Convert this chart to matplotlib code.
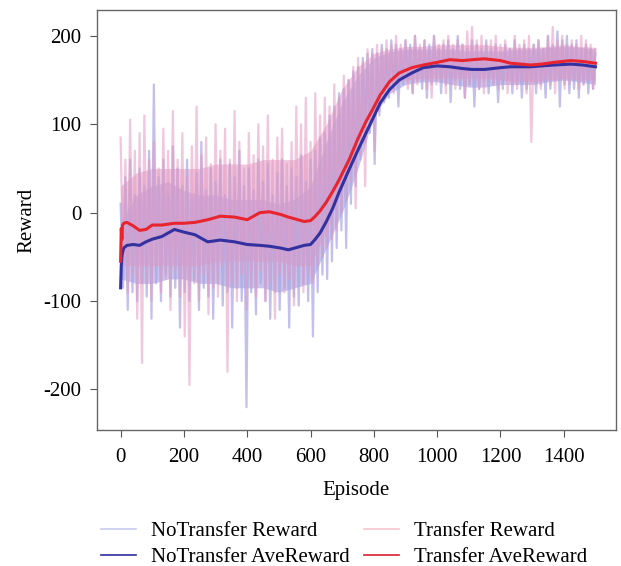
import matplotlib
matplotlib.use("Agg")
import matplotlib.pyplot as plt
from matplotlib.lines import Line2D

plt.rcParams['font.family'] = ['Liberation Serif', 'DejaVu Serif']

# Raw reward spikes, one high/low pair per 15-episode bin (episodes 0..1500)
bin_ep = list(range(0, 1501, 15))

notransfer_hi = [10, 40, 60, 20, 50, 30, 70, 145, 40, 60, 20, 75, 50, 30, 60, 15, 45, 80, 25, 50,
                 35, 60, 20, 55, 40, 70, 30, 50, 25, 60, 35, 55, 20, 45, 60, 30, 50, 40, 65, 35,
                 60, 70, 85, 90, 110, 120, 135, 140, 150, 160, 165, 175, 180, 185, 180, 190, 185, 195, 190, 185,
                 195, 190, 200, 185, 195, 190, 200, 185, 190, 195, 185, 200, 190, 185, 195, 190, 185, 195, 185, 190,
                 180, 190, 185, 195, 185, 190, 185, 190, 195, 185, 200, 190, 205, 195, 200, 190, 195, 185, 190, 185,
                 180]
notransfer_lo = [-85, -110, -90, -100, -80, -95, -120, -80, -100, -70, -95, -85, -130, -90, -100, -75, -110, -85, -95, -120,
                 -80, -105, -90, -130, -85, -100, -220, -90, -115, -80, -100, -120, -90, -110, -85, -130, -95, -105, -80, -100,
                 -140, -90, -70, -75, -55, -40, -20, -40, 10, 30, 60, 80, 90, 55, 110, 125, 130, 140, 120, 145,
                 150, 135, 150, 140, 130, 145, 150, 135, 145, 125, 150, 140, 130, 145, 120, 140, 150, 135, 145, 125,
                 140, 150, 135, 145, 130, 140, 150, 135, 145, 130, 140, 150, 120, 145, 135, 140, 130, 145, 135, 140,
                 150]
transfer_hi = [85, 60, 105, 70, 90, 110, 60, 80, 50, 95, 70, 115, 60, 90, 40, 75, 120, 65, 85, 55,
               100, 70, 95, 60, 115, 80, 50, 90, 65, 100, 75, 110, 60, 85, 95, 55, 80, 120, 100, 130,
               80, 135, 110, 130, 120, 145, 130, 155, 150, 165, 175, 170, 185, 180, 190, 185, 195, 190, 200, 190,
               195, 185, 200, 190, 195, 185, 200, 190, 195, 200, 190, 195, 190, 205, 210, 195, 200, 190, 195, 200,
               190, 195, 185, 200, 190, 195, 200, 190, 195, 185, 200, 210, 195, 200, 190, 195, 190, 200, 195, 190,
               185]
transfer_lo = [-60, -90, -70, -120, -170, -80, -100, -60, -90, -75, -110, -65, -95, -140, -195, -80, -100, -70, -115, -85,
               -95, -60, -180, -80, -100, -70, -110, -85, -95, -65, -100, -80, -120, -70, -90, -75, -105, -60, -90, -70,
               -80, -60, -50, -40, -30, -20, 0, 15, 35, 5, 65, 30, 100, 70, 115, 130, 140, 135, 145, 150,
               140, 135, 145, 150, 140, 130, 145, 150, 135, 145, 140, 150, 130, 145, 150, 140, 135, 150, 145, 140,
               150, 135, 145, 140, 150, 135, 80, 145, 140, 150, 145, 135, 150, 140, 145, 150, 140, 145, 150, 140,
               150]

# Dense core of the raw reward traces, every 50 episodes
core_ep = list(range(0, 1501, 50))
notransfer_core_hi = [-10, 20, 30, 35, 25, 20, 20, 15, 15, 15, 10, 15, 30, 80, 125, 155,
                      175, 182, 185, 185, 185, 185, 183, 183, 183, 185, 185, 187, 188, 187, 185]
notransfer_core_lo = [-75, -80, -80, -75, -75, -80, -80, -85, -85, -85, -90, -85, -80, -40, 0, 50,
                      110, 135, 145, 148, 148, 145, 142, 142, 145, 145, 145, 148, 150, 148, 145]
transfer_core_hi = [30, 45, 50, 50, 50, 50, 55, 55, 55, 60, 60, 60, 70, 100, 140, 165,
                    180, 185, 188, 188, 190, 190, 190, 190, 188, 187, 187, 188, 190, 188, 187]
transfer_core_lo = [-60, -60, -60, -60, -60, -60, -55, -55, -55, -55, -55, -60, -60, -20, 30, 80,
                    125, 145, 150, 152, 152, 152, 152, 152, 150, 148, 148, 150, 152, 150, 150]

# Moving-average curves
ave_ep = [0, 2, 4, 6, 10, 20, 40, 60, 80, 100, 130, 170, 200, 235, 275, 315, 360, 400, 440, 470,
          505, 530, 560, 580, 600, 615, 630, 650, 670, 690, 722, 750, 775, 795, 820, 849, 880, 920, 956, 1000,
          1040, 1080, 1110, 1150, 1200, 1232, 1265, 1295, 1330, 1370, 1422, 1460, 1500]
transfer_ave = [-55, -18, -30, -14, -12, -11, -15, -20, -19, -14, -14, -12, -12, -11, -8, -4, -5, -8, 0, 1,
                -2, -5, -8, -10, -9, -4, 2, 12, 24, 37, 60, 84, 103, 116, 133, 148, 158, 164, 167, 170,
                173, 172, 173, 174, 172, 169, 168, 167, 168, 170, 172, 171, 169]
notransfer_ave = [-85, -60, -50, -45, -40, -37, -36, -37, -33, -30, -27, -19, -22, -25, -33, -31, -33, -36, -37, -38,
                  -40, -42, -39, -37, -36, -30, -23, -10, 5, 23, 49, 71, 90, 105, 124, 139, 150, 158, 164, 166,
                  165, 163, 162, 162, 164, 165, 165, 165, 166, 167, 168, 167, 165]

xticks = [0, 200, 400, 600, 800, 1000, 1200, 1400]
yticks = [-200, -100, 0, 100, 200]
ytick_labels = ['-200', '-100', '0', '100', '200']
labels = ['NoTransfer Reward', 'NoTransfer AveReward', 'Transfer Reward', 'Transfer AveReward']


def zigzag(hi, lo):
    xs, ys = [], []
    for i, e in enumerate(bin_ep):
        xs.append(e)
        ys.append(hi[i])
        if i < len(bin_ep) - 1:
            xs.append(e + 7.5)
            ys.append(lo[i])
    return xs, ys


fig = plt.figure(figsize=(6.21, 5.66), dpi=100)
ax = fig.add_axes([0.156, 0.240, 0.836, 0.742])

blue_raw = '#aaa6e4'
pink_raw = '#e49ac2'
bx, by = zigzag(notransfer_hi, notransfer_lo)
px, py = zigzag(transfer_hi, transfer_lo)
ax.plot(bx, by, color=blue_raw, lw=1.6, alpha=0.7)
ax.fill_between(core_ep, notransfer_core_lo, notransfer_core_hi, color=blue_raw, alpha=0.65, lw=0)
ax.plot(px, py, color=pink_raw, lw=1.6, alpha=0.55)
ax.fill_between(core_ep, transfer_core_lo, transfer_core_hi, color=pink_raw, alpha=0.55, lw=0)
ax.plot(ave_ep, notransfer_ave, color='#3330a0', lw=2.2)
ax.plot(ave_ep, transfer_ave, color='#e8242e', lw=2.2)

ax.set_xlim(-75, 1565)
ax.set_ylim(-246, 229)
ax.set_xticks(xticks)
ax.set_yticks(yticks)
ax.set_yticklabels(ytick_labels)
ax.tick_params(labelsize=15, length=5, pad=6, color='#555555')
ax.tick_params(axis='x', pad=8)
for s in ax.spines.values():
    s.set_color('#666666')
    s.set_linewidth(1.0)
ax.set_xlabel('Episode', fontsize=15, labelpad=10)
ax.set_ylabel('Reward', fontsize=15, labelpad=5)

handles = [Line2D([], [], color='#c9c9f0', lw=1.2),
           Line2D([], [], color='#2e2e9e', lw=1.2),
           Line2D([], [], color='#f8c6d0', lw=1.2),
           Line2D([], [], color='#d8202a', lw=1.2)]
fig.legend(handles, labels, ncol=2, loc='upper left', bbox_to_anchor=(0.162, 0.078),
           frameon=False, fontsize=15, handlelength=1.7, handletextpad=0.7, columnspacing=0.7,
           labelspacing=0.28, borderpad=0, borderaxespad=0)

fig.savefig('out.png', dpi=100)
